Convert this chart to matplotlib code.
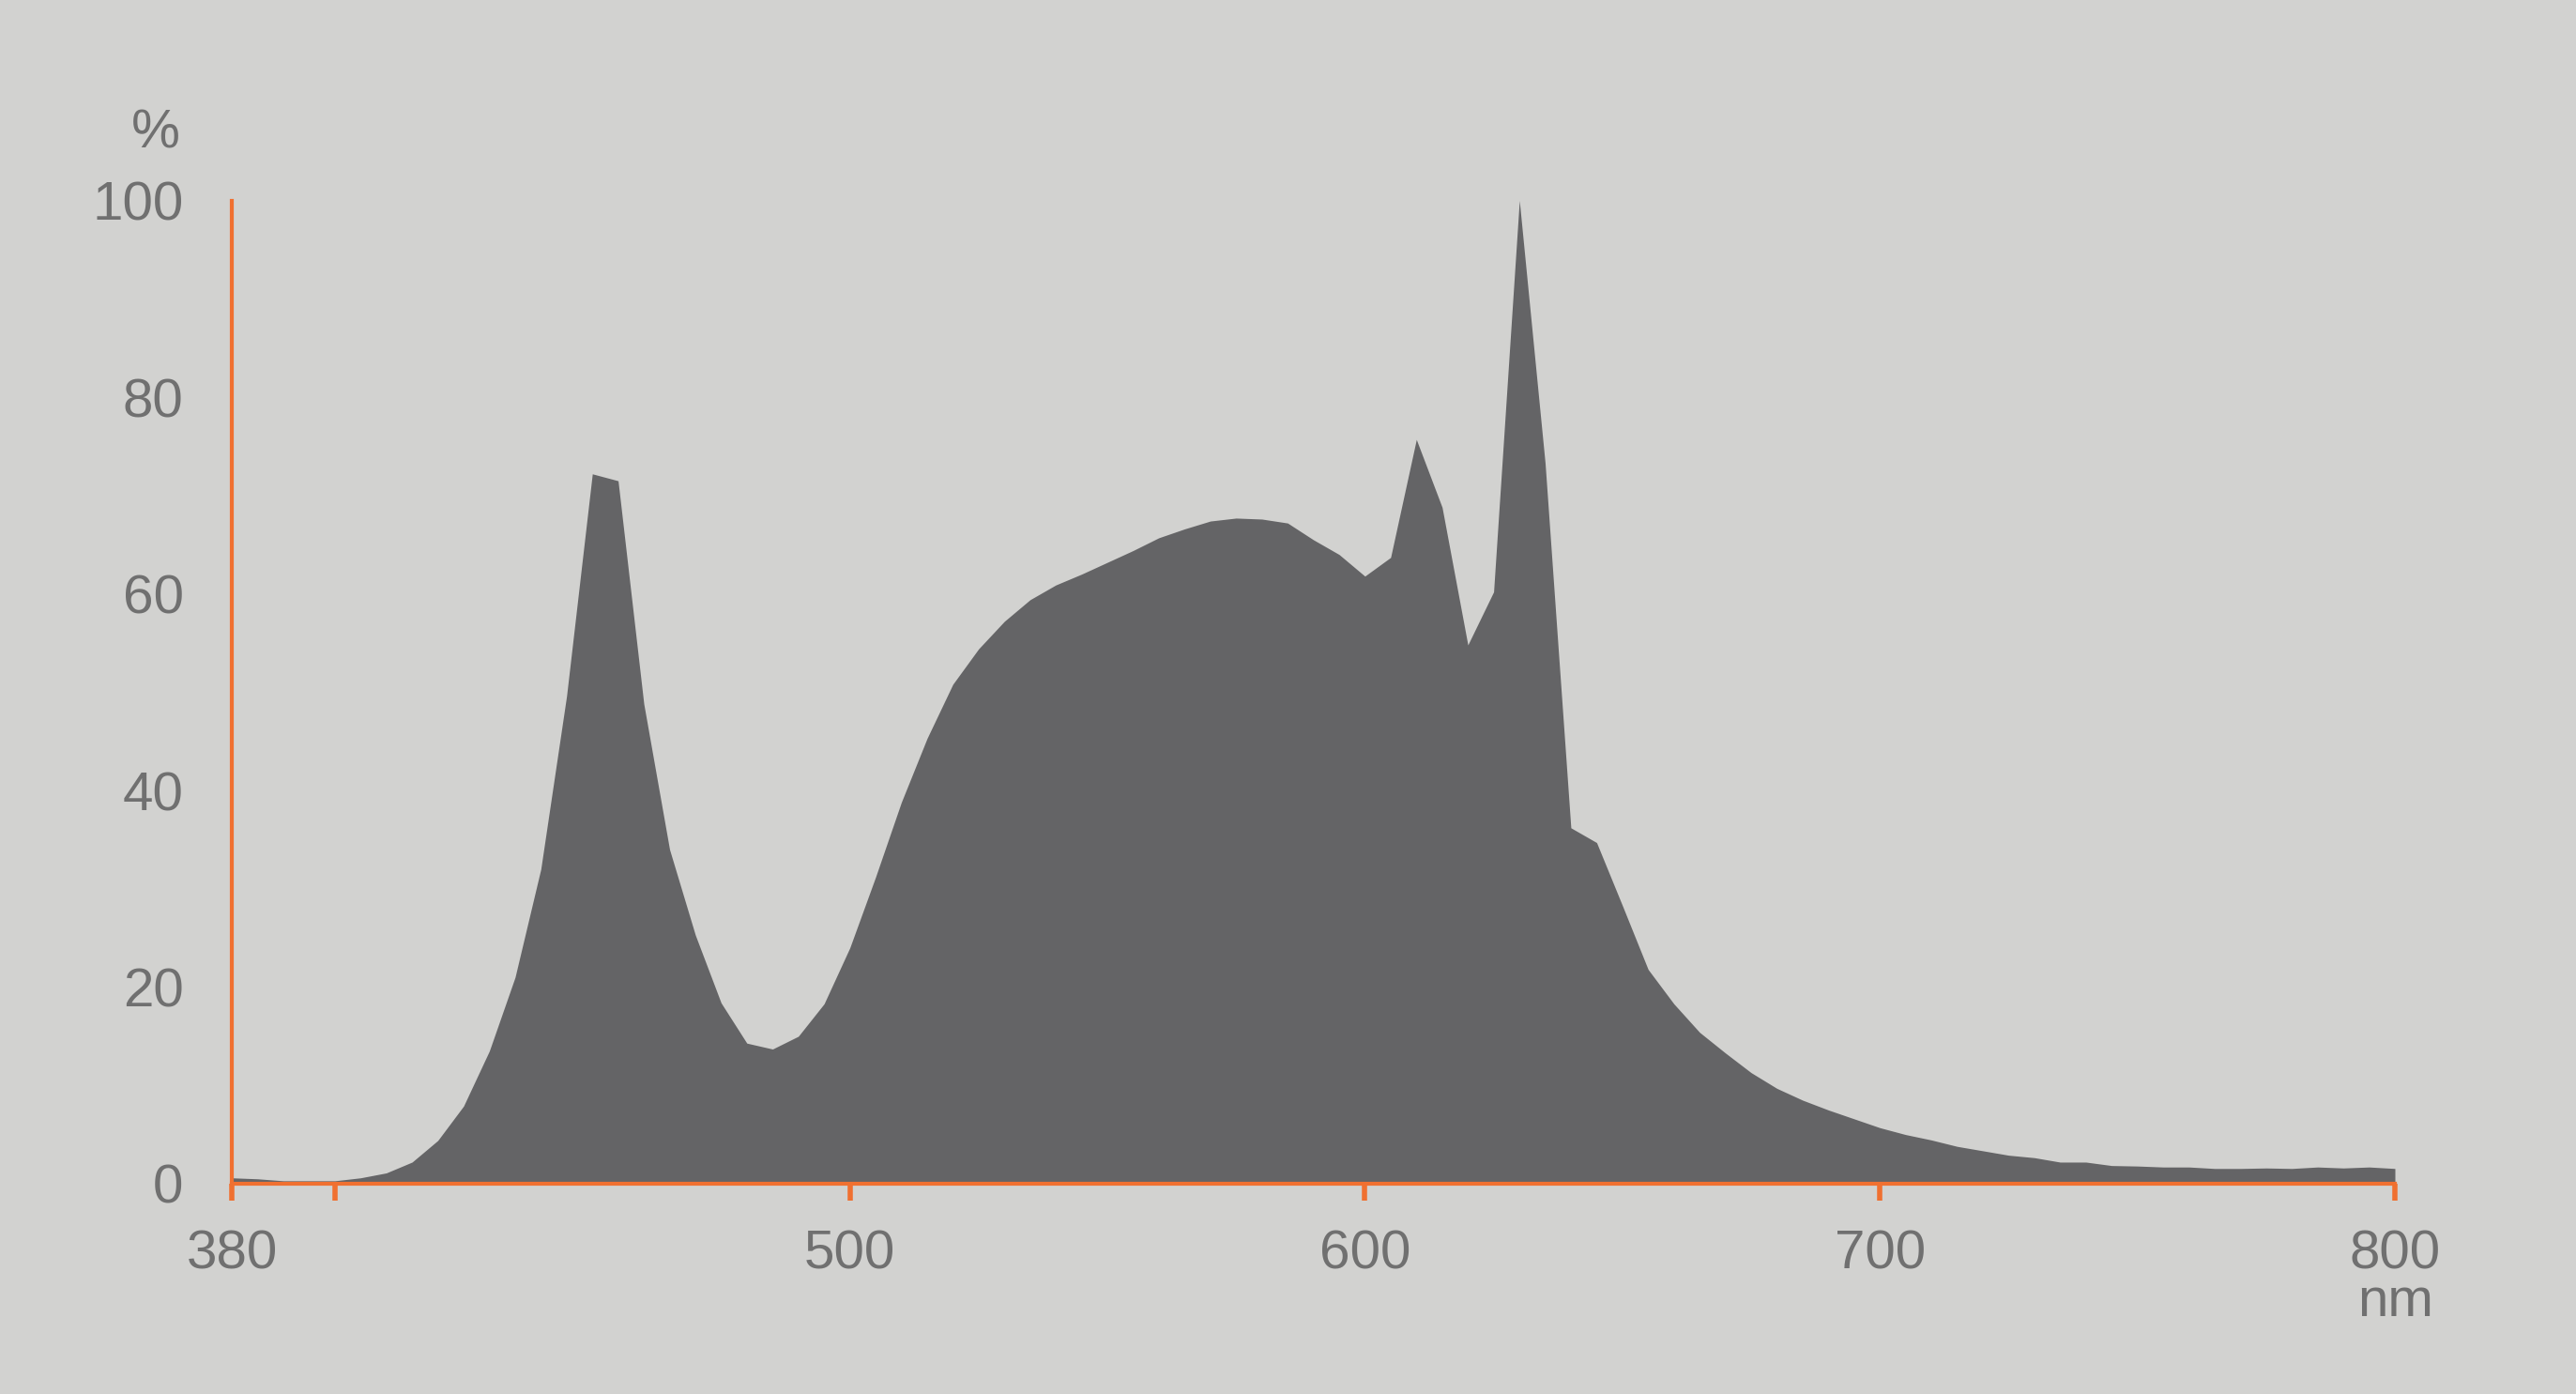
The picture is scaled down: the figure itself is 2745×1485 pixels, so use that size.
import matplotlib
matplotlib.use("Agg")
import matplotlib.pyplot as plt
import numpy as np

wavelengths = list(range(380, 801, 5))
intensity = [
    0.6, 0.5, 0.3, 0.3, 0.3, 0.6, 1.1, 2.2, 4.4, 7.9,
    13.5, 21.0, 32.0, 49.6, 72.2, 71.5, 48.8, 34.0, 25.3, 18.4,
    14.3, 13.7, 15.0, 18.3, 24.0, 31.2, 38.8, 45.3, 50.8, 54.4,
    57.2, 59.4, 60.9, 62.0, 63.2, 64.4, 65.7, 66.6, 67.4, 67.7,
    67.6, 67.2, 65.5, 64.0, 61.8, 63.7, 75.7, 68.8, 54.8, 60.2,
    100.0, 73.3, 36.2, 34.7, 28.3, 21.8, 18.3, 15.4, 13.3, 11.3,
    9.7, 8.5, 7.5, 6.6, 5.7, 5.0, 4.45, 3.8, 3.35, 2.9,
    2.65, 2.2, 2.2, 1.85, 1.8, 1.7, 1.7, 1.55, 1.55, 1.6,
    1.55, 1.7, 1.6, 1.7, 1.55,
]
x_ticks = [380, 400, 500, 600, 700, 800]
x_tick_labels = ["380", "", "500", "600", "700", "800"]
y_ticks = [0, 20, 40, 60, 80, 100]
y_tick_labels = ["0", "20", "40", "60", "80", "100"]

BG = "#d2d2d0"
FILL = "#646466"
ORANGE = "#f07030"
TEXT = "#707070"
FS = 42

plt.rcParams["font.family"] = ["Liberation Sans", "DejaVu Sans"]

fig = plt.figure(figsize=(27.45, 14.85), dpi=100, facecolor=BG)
ax = fig.add_axes([247 / 2745, 1 - 1261 / 1485, (2552 - 247) / 2745, (1261 - 213.6) / 1485])
ax.set_facecolor(BG)

ax.fill_between(wavelengths, intensity, 0, color=FILL, lw=0, zorder=1)

ax.set_xlim(380, 800)
ax.set_ylim(0, 100)

for s in ["top", "right"]:
    ax.spines[s].set_visible(False)
for s in ["left", "bottom"]:
    ax.spines[s].set_color(ORANGE)
    ax.spines[s].set_linewidth(3)
    ax.spines[s].set_zorder(3)

ax.set_xticks(x_ticks)
ax.set_xticklabels(x_tick_labels)
ax.set_yticks(y_ticks)
ax.set_yticklabels(y_tick_labels)

ax.tick_params(axis="x", direction="out", length=13, width=4, color=ORANGE,
               labelsize=FS, labelcolor=TEXT, pad=22)
ax.tick_params(axis="y", length=0, labelsize=FS, labelcolor=TEXT, pad=37)

fig.text(192 / 2745, 1 - 143 / 1485, "%", ha="right", va="center",
         fontsize=FS, color=TEXT)
fig.text(2553 / 2745, 1 - 1402 / 1485, "nm", ha="center", va="baseline",
         fontsize=FS, color=TEXT)

fig.savefig("out.png", dpi=100, facecolor=BG)
